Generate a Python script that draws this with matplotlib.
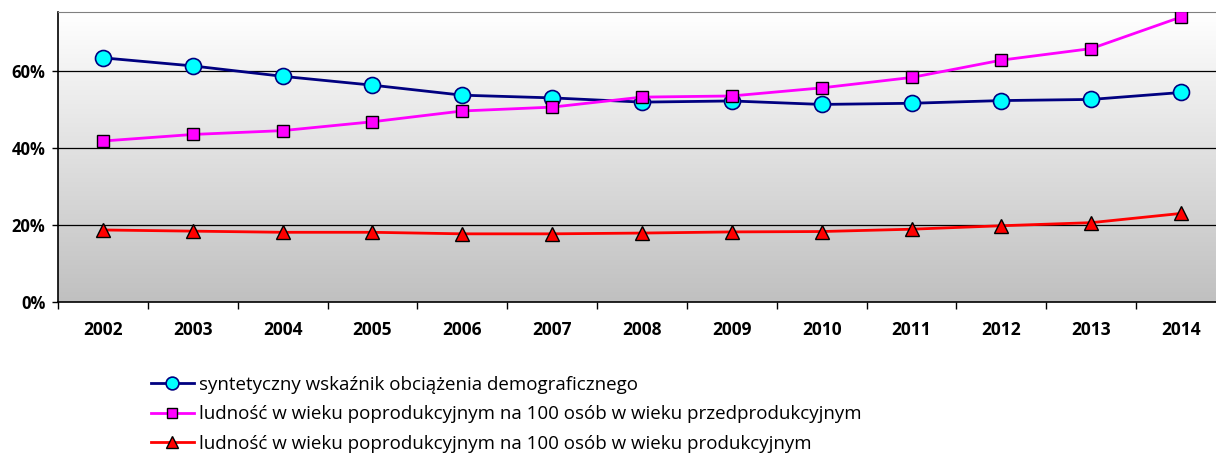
import matplotlib
matplotlib.use("Agg")
import matplotlib.pyplot as plt
import numpy as np
from matplotlib.ticker import FixedLocator, FuncFormatter
from matplotlib.colors import LinearSegmentedColormap

years = ["2002", "2003", "2004", "2005", "2006", "2007", "2008",
         "2009", "2010", "2011", "2012", "2013", "2014"]
syntetyczny = [63.4, 61.3, 58.6, 56.3, 53.7, 53.0, 51.9, 52.2, 51.3, 51.6, 52.3, 52.6, 54.4]
przedprod = [41.8, 43.5, 44.5, 46.8, 49.6, 50.6, 53.2, 53.5, 55.6, 58.3, 62.8, 65.8, 74.0]
prod = [18.7, 18.4, 18.1, 18.1, 17.7, 17.7, 17.9, 18.2, 18.3, 18.9, 19.8, 20.6, 23.0]
labels = ["syntetyczny wskaźnik obciążenia demograficznego",
          "ludność w wieku poprodukcyjnym na 100 osób w wieku przedprodukcyjnym",
          "ludność w wieku poprodukcyjnym na 100 osób w wieku produkcyjnym"]
yticks = [0, 20, 40, 60]

plt.rcParams['font.family'] = ['Open Sans', 'DejaVu Sans']

fig = plt.figure(figsize=(12.16, 4.54), dpi=100)
ax = fig.add_axes([58/1216, 1-302/454, (1226-58)/1216, 290/454])

x = np.arange(len(years))
ax.set_xlim(-0.5, len(years) - 0.5)
ax.set_ylim(0, 75.3)

grad = np.linspace(0, 1, 256).reshape(-1, 1)
cmap = LinearSegmentedColormap.from_list("g", ["#c0c0c0", "#ffffff"])
ax.imshow(grad, aspect='auto', cmap=cmap, origin='lower',
          extent=[-0.5, len(years) - 0.5, 0, 75.3], zorder=0)

for t in yticks[1:]:
    ax.axhline(t, color='black', lw=0.9, zorder=1)

ax.plot(x, syntetyczny, color='#000080', lw=2.0, marker='o', ms=11.5,
        mfc='#00ffff', mec='#000080', mew=1.2, label=labels[0], zorder=3)
ax.plot(x, przedprod, color='#ff00ff', lw=2.0, marker='s', ms=8.5,
        mfc='#ff00ff', mec='black', mew=1.0, label=labels[1], zorder=3)
ax.plot(x, prod, color='#ff0000', lw=2.0, marker='^', ms=10,
        mfc='#ff0000', mec='black', mew=1.0, label=labels[2], zorder=3)

ax.set_yticks(yticks)
ax.yaxis.set_major_formatter(FuncFormatter(lambda v, p: f"{int(v)}%"))
ax.set_xticks(x)
ax.set_xticklabels(years)
ax.xaxis.set_minor_locator(FixedLocator(np.arange(-0.5, len(years), 1.0)))
ax.tick_params(axis='x', which='major', length=0, pad=14)
ax.tick_params(axis='x', which='minor', length=5, width=1, color='black', direction='out')
ax.tick_params(axis='y', length=4, width=1, direction='out', pad=5)
for lab in ax.get_xticklabels():
    lab.set_fontweight('bold')
    lab.set_fontsize(12.5)
for lab in ax.get_yticklabels():
    lab.set_fontweight('bold')
    lab.set_fontsize(12)

ax.spines['left'].set_color('black')
ax.spines['bottom'].set_color('black')
ax.spines['top'].set_color('#808080')
ax.spines['right'].set_visible(False)
for s in ['left', 'bottom']:
    ax.spines[s].set_linewidth(1.2)

leg = fig.legend(loc='upper left', bbox_to_anchor=(143/1216, 1-368/454),
                 frameon=False, fontsize=13.5, handlelength=2.3, markerscale=0.8,
                 handletextpad=0.3, labelspacing=0.62, borderaxespad=0)

fig.savefig("out.png", dpi=100)
